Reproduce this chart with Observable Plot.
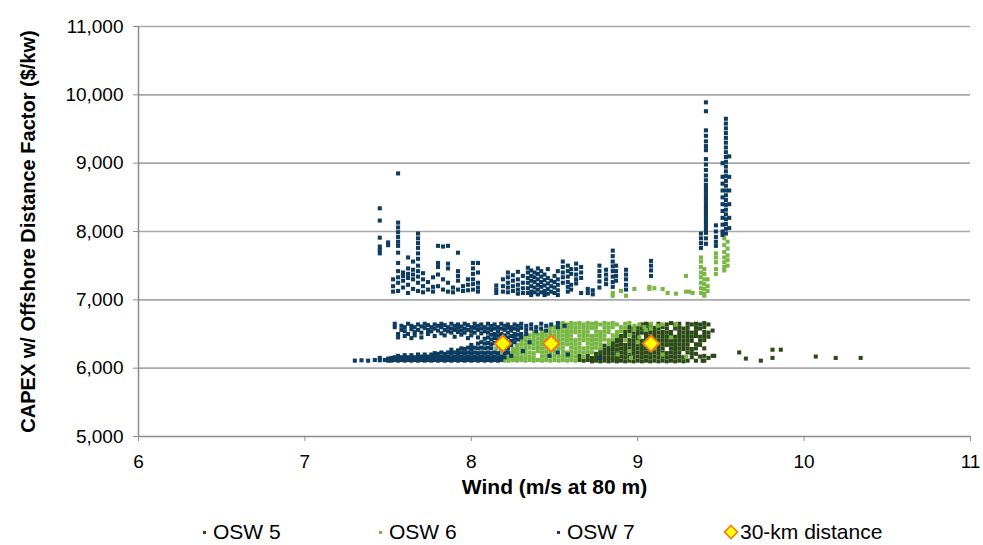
<!DOCTYPE html>
<html><head><meta charset="utf-8">
<script src="https://cdn.jsdelivr.net/npm/d3@7"></script>
<script src="https://cdn.jsdelivr.net/npm/@observablehq/plot@0.6"></script>
<style>
body{margin:0;background:#fff;font-family:"Liberation Sans",Arial,sans-serif;}
#legend{position:relative;width:983px;height:35px;font-size:21px;color:#000;}
#legend .item{position:absolute;top:10px;white-space:nowrap;line-height:24px;height:24px}
#legend .sw{position:absolute;width:3px;height:3px;top:21px}
</style></head><body>
<div id="chart"></div>
<div id="legend"></div>
<script>
// ---- data ----
const xTicks = [6, 7, 8, 9, 10, 11];
const yTicks = [5000, 6000, 7000, 8000, 9000, 10000, 11000];
const seriesNames = ["OSW 5", "OSW 6", "OSW 7"];
const seriesColors = ["#2c4a16", "#79b743", "#0e3c60"];
const diamondName = "30-km distance";
const xLabel = "Wind (m/s at 80 m)";
const yLabel = "CAPEX w/ Offshore Distance Factor ($/kw)";

// 30-km distance markers
const diamondWind = [8.19, 8.48, 9.08];
const diamondCapex = [6360, 6360, 6360];

// OSW 5 columns: [wind, [capex values]]
const osw5 = [
  [8.65,[6120,6180]],[8.675,[6110]],
  [8.70,[6120,6180]],[8.725,[6100,6150]],[8.75,[6110,6160,6210]],[8.775,[6100,6150,6200,6250]],
  [8.80,[6110,6160,6220,6270,6330]],[8.825,[6100,6150,6210,6260,6310]],
  [8.85,[6110,6160,6220,6280,6340,6390]],[8.875,[6100,6150,6210,6270,6330,6390,6420]],
  [8.90,[6110,6170,6230,6290,6350,6410,6470]],[8.925,[6100,6160,6220,6280,6340,6470,6530]],
  [8.95,[6110,6170,6230,6290,6350,6410,6540,6600]],[8.975,[6100,6160,6220,6280,6340,6400,6460,6520,6580]],
  [9.00,[6110,6170,6230,6290,6350,6410,6470,6530,6590]],[9.025,[6100,6160,6220,6280,6340,6400,6520,6580,6640]],
  [9.05,[6110,6170,6230,6290,6350,6410,6470,6530,6590,6650]],[9.075,[6100,6160,6220,6280,6460,6520,6580,6640]],
  [9.10,[6110,6170,6230,6290,6350,6410,6470,6530,6590]],[9.125,[6100,6160,6220,6280,6340,6400,6460,6520,6580,6650]],
  [9.15,[6110,6170,6230,6290,6350,6410,6470,6530,6600]],[9.175,[6100,6160,6220,6340,6400,6460,6520,6580,6640]],
  [9.20,[6110,6170,6230,6290,6350,6410,6470,6530,6660]],[9.225,[6100,6160,6220,6280,6340,6400,6460,6580,6640]],
  [9.25,[6110,6170,6230,6290,6350,6410,6470,6530,6590,6650]],[9.275,[6100,6160,6280,6340,6400,6460,6520,6580]],
  [9.30,[6110,6230,6290,6350,6410,6470,6530,6590,6650]],[9.325,[6160,6220,6280,6400,6460,6520,6640]],
  [9.35,[6110,6210,6290,6350,6470,6530,6590,6650]],[9.375,[6170,6340,6400,6460,6580,6640]],
  [9.40,[6110,6180,6290,6410,6470,6530,6600,6660]],[9.425,[6150,6460,6520,6640]],[9.45,[6180,6550]],
  [9.39,[6110]],[9.46,[6180]],[9.61,[6230]],[9.65,[6140]],[9.74,[6110]],[9.81,[6270,6150]],
  [9.86,[6270]],[10.07,[6170]],[10.19,[6150]],[10.34,[6150]]
];

// OSW 6 columns
const osw6 = [
  [8.15,[6290]],[8.175,[6350,6230]],
  [8.20,[6110,6150]],[8.225,[6110,6160,6220]],[8.25,[6120,6170,6230,6280]],[8.275,[6110,6160,6220,6280,6340]],
  [8.30,[6120,6170,6230,6290,6350,6410]],[8.325,[6110,6160,6220,6280,6340,6400,6460]],
  [8.35,[6120,6170,6230,6300,6360,6420,6480]],[8.375,[6110,6160,6220,6290,6350,6410,6470,6530]],
  [8.40,[6120,6250,6310,6370,6430,6490]],[8.425,[6110,6170,6230,6290,6350,6410,6470,6530]],
  [8.45,[6120,6180,6240,6300,6360,6420,6480,6540]],[8.475,[6110,6170,6230,6290,6350,6410,6470,6530,6590]],
  [8.50,[6120,6180,6240,6300,6360,6420,6480,6540,6600]],[8.525,[6110,6170,6290,6350,6410,6470,6530,6590,6650]],
  [8.55,[6120,6180,6240,6300,6360,6420,6480,6540,6600,6660]],[8.575,[6110,6170,6230,6350,6410,6470,6530,6590,6640]],
  [8.60,[6120,6180,6240,6300,6360,6420,6480,6540,6600,6660]],[8.625,[6110,6170,6230,6290,6350,6410,6530,6590,6650]],
  [8.65,[6240,6300,6360,6420,6480,6540,6600,6660]],[8.675,[6170,6230,6290,6410,6470,6530,6590,6640]],
  [8.70,[6240,6300,6360,6420,6480,6540,6600,6660]],[8.725,[6230,6290,6350,6410,6470,6590,6650]],
  [8.75,[6300,6360,6420,6480,6540,6600,6660]],[8.775,[6290,6350,6410,6470,6530,6640]],
  [8.80,[6420,6480,6540,6600,6660]],[8.825,[6350,6410,6530,6590,6650]],[8.85,[6420,6480,6600,6660]],
  [8.875,[6470,6530,6640]],[8.90,[6540,6600]],[8.925,[6410,6590,6650]],[8.95,[6480,6660,6250]],
  [8.98,[6560,6620]],[9.00,[6380]],[9.01,[6450,6640]],[9.04,[6600]],[9.05,[6560]],[9.08,[6650,6580]],
  [9.10,[6300]],[9.12,[6620]],[9.15,[6640,6200]],[9.20,[6450]],
  [9.23,[6640]],[9.29,[6170]],[8.88,[6200]],[8.96,[6150]],
  // upper points
  [8.85,[7100,7060]],[8.90,[7130]],[8.93,[7060]],[8.98,[7160]],[9.07,[7190,7160]],[9.10,[7170]],
  [9.15,[7160]],[9.18,[7100]],[9.23,[7090]],[9.29,[7120,7350]],[9.31,[7120]],[9.33,[7100]],
  [9.38,[7620,7560,7480,7400,7330,7250,7170,7100]],[9.40,[7450,7380,7300,7230,7160,7090,7060]],
  [9.42,[7300,7200,7130]],[9.47,[7680,7620,7550,7450,7380]],
  [9.52,[7900,7800,7700,7620,7550,7480,7430]],[9.54,[7850,7750,7650,7580,7500]]
];

// OSW 7 columns
const osw7 = [
  // upper cloud
  [7.45,[8340,8160,7910,7780,7730,7680]],[7.50,[7840,7800]],[7.53,[7300,7200,7120]],
  [7.56,[8850,8130,8060,7990,7920,7850,7790,7690,7540,7420,7330,7250,7130]],
  [7.59,[7400,7350,7280,7180]],[7.62,[7620,7460,7380,7320,7220,7100]],[7.65,[7560,7440,7370,7300,7160]],
  [7.68,[7970,7900,7830,7760,7680,7600,7500,7420,7340,7250,7130]],[7.71,[7390,7300,7200,7110]],
  [7.74,[7260,7150]],[7.77,[7330,7190,7120]],[7.80,[7790,7540,7480,7370,7200]],[7.83,[7780,7300,7150]],
  [7.86,[7790,7530,7460,7250,7120]],[7.89,[7180,7110]],[7.92,[7690,7420,7350,7280,7150]],
  [7.95,[7200,7130]],[7.98,[7300,7220,7140]],[8.01,[7540,7460,7380,7300,7230,7150]],
  [8.04,[7540,7400,7250,7180,7120]],[8.15,[7210,7150,7100]],[8.19,[7300,7200,7120]],
  [8.22,[7400,7330,7250,7180,7110]],[8.25,[7360,7280,7200,7130]],[8.28,[7410,7300,7220,7150,7090]],
  [8.31,[7350,7250,7170,7100]],[8.34,[7470,7400,7320,7250,7170,7100]],[8.36,[7430,7350,7280,7200,7120,7070]],
  [8.38,[7400,7330,7260,7180,7110]],[8.40,[7460,7380,7300,7220,7150,7080]],[8.42,[7420,7340,7260,7190,7110]],
  [8.44,[7370,7290,7210,7130,7070]],[8.46,[7450,7320,7240,7160,7090]],[8.48,[7280,7200,7120]],
  [8.50,[7350,7260,7180,7100]],[8.52,[7420,7300,7220,7140,7070]],[8.55,[7560,7480,7400,7330,7250]],
  [8.58,[7500,7420,7340,7260,7190,7120]],[8.60,[7450,7380,7220,7150]],[8.63,[7530,7450,7370,7300,7240]],
  [8.66,[7480,7400,7320,7100]],[8.70,[7160,7100]],[8.73,[7140,7080]],[8.77,[7500,7420,7350,7270,7180]],
  [8.81,[7440,7370,7300,7230]],[8.85,[7720,7640,7560,7490,7420,7340,7260,7190]],[8.87,[7500,7420,7350,7280]],
  [8.93,[7440,7370,7300,7220,7150]],[9.08,[7570,7500,7430,7350]],
  // spike
  [9.38,[7970,7900,7830,7760]],
  [9.41,[9890,9760,9480,9400,9320,9250,9190,9060,8980,8900,8820,8750,8680,8630,8580,8530,8480,8430,8380,8330,8280,8230,8180,8130,8080,8030,7980,7900,7820]],
  [9.47,[8090,8000,7920,7850,7790]],
  [9.51,[9000,8800,8700,8600,8500,8400,8300,8200,8100,8000,7950]],
  [9.53,[9650,9580,9510,9440,9370,9300,9230,9160,9090,9020,8950,8880,8810,8740,8670,8600,8530,8460,8390,8320,8250,8180,8110,8040,7970]],
  [9.55,[9100,8800,8600,8400,8200,8050]],
  // lower band
  [7.30,[6110]],[7.34,[6115]],[7.38,[6110]],[7.42,[6120]],[7.45,[6115,6150]],[7.48,[6120]],[7.50,[6110,6140]],
  [7.52,[6110,6150]],[7.54,[6120,6160,6650,6600]],[7.56,[6110,6150,6180,6500,6450]],[7.58,[6120,6160,6620,6560]],
  [7.60,[6110,6150,6190,6600,6540,6470]],[7.62,[6120,6160,6650,6500]],[7.64,[6110,6150,6190,6620,6570,6440]],
  [7.66,[6120,6160,6600,6530,6480]],[7.68,[6110,6150,6200,6640,6560]],[7.70,[6120,6170,6610,6520,6450]],
  [7.72,[6110,6160,6200,6650,6590]],[7.74,[6120,6170,6630,6560,6500]],[7.76,[6110,6150,6200,6600,6540]],
  [7.78,[6120,6170,6220,6640,6580,6470]],[7.80,[6110,6160,6210,6620,6550]],[7.82,[6120,6170,6230,6650,6600,6510]],
  [7.84,[6110,6160,6210,6630,6560,6480]],[7.86,[6120,6170,6230,6600,6540]],[7.88,[6110,6160,6220,6270,6650,6580,6520]],
  [7.90,[6120,6170,6230,6620,6560,6460]],[7.92,[6110,6160,6210,6260,6640,6590,6530]],
  [7.94,[6120,6170,6230,6290,6610,6550,6490]],[7.96,[6110,6160,6220,6280,6650,6580,6520]],
  [7.98,[6120,6170,6230,6300,6630,6560,6440]],[8.00,[6110,6160,6220,6280,6340,6600,6540,6480]],
  [8.02,[6120,6170,6230,6300,6650,6590,6520]],[8.04,[6110,6160,6220,6290,6360,6620,6560,6450]],
  [8.06,[6120,6170,6230,6300,6380,6640,6580,6510]],[8.08,[6110,6160,6220,6290,6360,6430,6600,6540]],
  [8.10,[6120,6170,6230,6300,6370,6450,6650,6580,6520]],[8.12,[6110,6160,6220,6290,6350,6420,6490,6620,6560]],
  [8.14,[6120,6170,6230,6370,6440,6500,6640,6580]],[8.16,[6110,6160,6220,6420,6480,6600,6540]],
  [8.18,[6120,6170,6290,6430,6500,6650,6580]],[8.20,[6160,6220,6280,6410,6480,6620,6560]],
  [8.22,[6230,6290,6450,6520,6640,6590]],[8.24,[6180,6340,6400,6470,6600,6550]],[8.26,[6380,6440,6500,6640,6580]],
  [8.28,[6420,6490,6620,6560]],[8.30,[6450,6500,6650,6590]],[8.31,[6250]],[8.33,[6500,6620,6560]],[8.35,[6380]],
  [8.36,[6640,6580]],[8.39,[6600,6540]],[8.42,[6650,6580]],[8.45,[6620,6550]],[8.48,[6640]],[8.52,[6660,6600]],
  [8.56,[6620]],[8.47,[6180]],[8.52,[6230]],[8.58,[6200]],[8.77,[6150]]
];

// ---- build ----
const flat = (cols) => cols.flatMap(([w, vs]) => vs.map(c => ({wind: w, capex: c})));
const pts = [flat(osw5), flat(osw6), flat(osw7)];
const diamonds = diamondWind.map((w, i) => ({wind: w, capex: diamondCapex[i]}));

const font = '"Liberation Sans", Arial, Helvetica, sans-serif';
const chart = Plot.plot({
  width: 983, height: 510,
  marginLeft: 138, marginRight: 13, marginTop: 26, marginBottom: 74,
  style: {fontFamily: font, fontSize: "19px", color: "#000", background: "#fff", overflow: "visible"},
  x: {domain: [6, 11]},
  y: {domain: [5000, 11000]},
  marks: [
    Plot.ruleY(yTicks.filter(v => v > 5000), {stroke: "#a8a8a8", strokeWidth: 1.6}),
    ...pts.map((p, i) => Plot.dot(p, {x: "wind", y: "capex", symbol: "square", r: 2.3, fill: seriesColors[i]})),
    Plot.ruleY([5000], {stroke: "#8c8c8c", strokeWidth: 1.5}),
    Plot.ruleX([6], {stroke: "#8c8c8c", strokeWidth: 1.5}),
    Plot.axisX(xTicks, {tickSize: 5, tickPadding: 13, tickFormat: d => String(d), stroke: "#8c8c8c", fill: "#000", fontSize: 19, label: null}),
    Plot.axisY(yTicks, {tickSize: 5, tickPadding: 10, tickFormat: d3.format(","), stroke: "#8c8c8c", fill: "#000", fontSize: 19, label: null}),
    Plot.dot(diamonds, {x: "wind", y: "capex", symbol: "diamond2", r: 7.3, fill: "#ffff00", stroke: "#f07a1a", strokeWidth: 2}),
    Plot.text([xLabel], {frameAnchor: "bottom", dy: 57, text: d => d, fontWeight: "bold", fontSize: 21, fill: "#000"}),
    Plot.text([yLabel], {frameAnchor: "left", dx: -110, rotate: -90, textAnchor: "middle", text: d => d, fontWeight: "bold", fontSize: 20, fill: "#000"})
  ]
});
document.getElementById("chart").appendChild(chart);

// legend
const legend = document.getElementById("legend");
const legendPos = [[203, 213], [379, 389], [557, 567]];
seriesNames.forEach((name, i) => {
  const sw = document.createElement("span");
  sw.className = "sw";
  sw.style.left = legendPos[i][0] + "px";
  sw.style.background = seriesColors[i];
  legend.appendChild(sw);
  const t = document.createElement("span");
  t.className = "item";
  t.style.left = legendPos[i][1] + "px";
  t.textContent = name;
  legend.appendChild(t);
});
const dsvg = document.createElementNS("http://www.w3.org/2000/svg", "svg");
dsvg.setAttribute("width", 16); dsvg.setAttribute("height", 16);
dsvg.style.position = "absolute"; dsvg.style.left = "723px"; dsvg.style.top = "14px";
dsvg.innerHTML = '<polygon points="8,1.5 14.5,8 8,14.5 1.5,8" fill="#ffff00" stroke="#f07a1a" stroke-width="1.6"/>';
legend.appendChild(dsvg);
const dt = document.createElement("span");
dt.className = "item";
dt.style.left = "740px";
dt.textContent = diamondName;
legend.appendChild(dt);
</script>
</body></html>
